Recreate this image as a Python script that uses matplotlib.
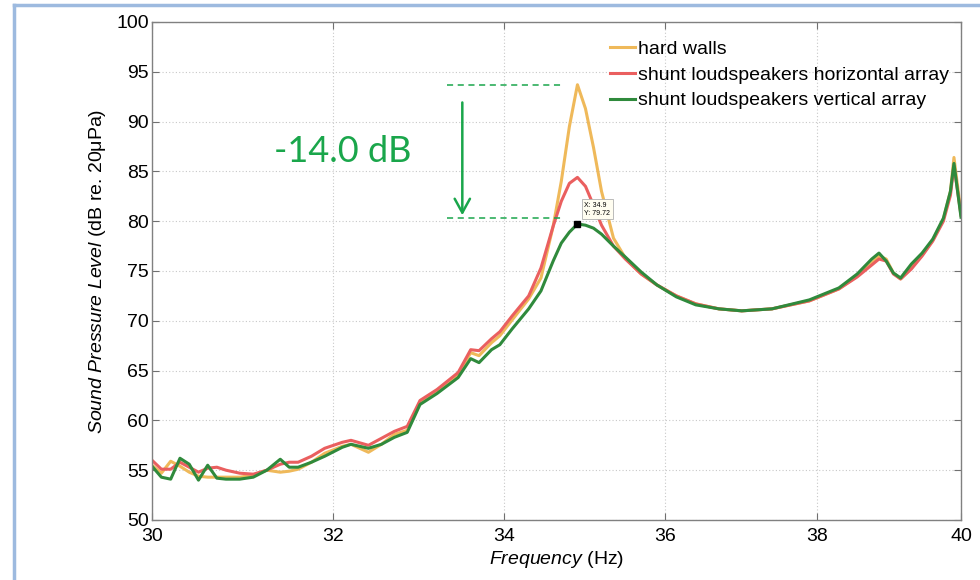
import matplotlib
matplotlib.use("Agg")
import matplotlib.pyplot as plt
from matplotlib.lines import Line2D
from matplotlib.ticker import FixedLocator, NullLocator, FixedFormatter

plt.rcParams["font.family"] = ["Liberation Sans", "DejaVu Sans"]
plt.rcParams["mathtext.fontset"] = "custom"
plt.rcParams["mathtext.rm"] = "Liberation Sans"
plt.rcParams["mathtext.it"] = "Liberation Sans:italic"

# ── Measured SPL spectra (Hz / dB re. 20uPa) ─────────────
freq = [30.0, 30.1, 30.2, 30.3, 30.4, 30.5, 30.6, 30.7, 30.8, 30.95,
        31.1, 31.25, 31.4, 31.5, 31.6, 31.75, 31.9, 32.1, 32.2, 32.4,
        32.55, 32.7, 32.85, 33.0, 33.2, 33.45, 33.6, 33.7, 33.85, 33.95,
        34.1, 34.3, 34.45, 34.6, 34.7, 34.8, 34.9, 35.0, 35.1, 35.2,
        35.35, 35.5, 35.7, 35.9, 36.15, 36.4, 36.7, 37.0, 37.4, 37.9,
        38.3, 38.55, 38.75, 38.85, 38.95, 39.05, 39.15, 39.3, 39.45, 39.6,
        39.75, 39.85, 39.9, 40.0]

hard_walls = [55.5, 54.7, 55.9, 55.4, 54.8, 54.4, 54.3, 54.3, 54.3, 54.3,
              54.5, 55.0, 54.8, 54.9, 55.1, 55.8, 56.7, 57.4, 57.6, 56.8,
              57.6, 58.6, 59.0, 61.9, 63.0, 64.6, 66.8, 66.5, 67.8, 68.5,
              70.1, 72.2, 74.3, 79.5, 84.0, 89.5, 93.7, 91.3, 87.4, 83.0,
              78.3, 76.3, 74.7, 73.6, 72.5, 71.7, 71.2, 71.0, 71.2, 72.0,
              73.2, 74.5, 75.8, 76.5, 76.2, 74.8, 74.2, 75.3, 76.6, 78.1,
              80.2, 83.0, 86.4, 80.8]

horizontal = [56.0, 55.1, 55.1, 55.8, 55.3, 54.8, 55.2, 55.3, 55.0, 54.7,
              54.6, 55.0, 55.6, 55.8, 55.8, 56.4, 57.2, 57.8, 58.0, 57.5,
              58.2, 58.9, 59.4, 62.0, 63.1, 64.8, 67.1, 67.0, 68.2, 68.9,
              70.5, 72.5, 75.3, 79.5, 82.0, 83.8, 84.4, 83.5, 81.6, 79.6,
              77.5, 76.2, 74.7, 73.6, 72.5, 71.7, 71.2, 71.0, 71.2, 72.0,
              73.2, 74.4, 75.6, 76.2, 76.0, 74.7, 74.2, 75.2, 76.5, 78.0,
              80.0, 82.6, 85.6, 80.6]

vertical = [55.4, 54.3, 54.1, 56.2, 55.6, 54.0, 55.5, 54.2, 54.1, 54.1,
            54.3, 55.0, 56.1, 55.3, 55.3, 55.8, 56.4, 57.3, 57.6, 57.2,
            57.6, 58.3, 58.8, 61.6, 62.7, 64.3, 66.2, 65.8, 67.1, 67.6,
            69.2, 71.2, 73.0, 76.0, 77.8, 78.9, 79.72, 79.6, 79.3, 78.7,
            77.5, 76.4, 74.9, 73.6, 72.4, 71.6, 71.2, 71.0, 71.2, 72.1,
            73.3, 74.7, 76.2, 76.8, 76.0, 74.8, 74.3, 75.7, 76.8, 78.2,
            80.3, 83.0, 85.8, 80.4]

labels = ["hard walls",
          "shunt loudspeakers horizontal array",
          "shunt loudspeakers vertical array"]
colors = ["#efb95a", "#ea5f5f", "#2f8a3c"]

x_ticks = [30, 32, 34, 36, 38, 40]
y_ticks = [50, 55, 60, 65, 70, 75, 80, 85, 90, 95, 100]

# datatip on the vertical-array peak
tip_f, tip_db = 34.9, 79.72
peak_hard = 93.7
drop_db = tip_db - peak_hard
annot_green = "#1aa64b"

# ── Figure ────────────────────────────────────────────
fig = plt.figure(figsize=(9.8, 5.8), dpi=100)
ax = fig.add_axes([152 / 980, 1 - 520 / 580, 809 / 980, 498 / 580])

for series, lab, col in zip([hard_walls, horizontal, vertical], labels, colors):
    ax.plot(freq, series, color=col, linewidth=2.2, label=lab,
            solid_joinstyle="round")

ax.set_xscale("log")
ax.set_xlim(30, 40)
ax.set_ylim(50, 100)
ax.xaxis.set_major_locator(FixedLocator(x_ticks))
ax.xaxis.set_major_formatter(FixedFormatter([str(t) for t in x_ticks]))
ax.xaxis.set_minor_locator(NullLocator())
ax.set_yticks(y_ticks)

ax.grid(True, linestyle=(0, (1, 2)), color="#c8c8c8", linewidth=0.8)
ax.tick_params(direction="in", top=True, right=True, length=5,
               labelsize=14, color="#707070")
ax.tick_params(axis="x", pad=6)
ax.tick_params(axis="y", pad=2)
for sp in ax.spines.values():
    sp.set_color("#808080")
    sp.set_linewidth(1.0)

ax.set_xlabel(r"$\mathit{Frequency}$ (Hz)", fontsize=14, labelpad=3)
ax.set_ylabel(r"$\mathit{Sound\ Pressure\ Level}$ (dB re. 20μPa)",
              fontsize=14, labelpad=6)

leg = ax.legend(loc="upper right", bbox_to_anchor=(1.0, 0.987),
                frameon=False, fontsize=14, handlelength=1.3,
                handletextpad=0.15, labelspacing=0.42, borderaxespad=0.2)

# ── Attenuation annotation ────────────────────────────
ax.plot([33.32, 34.73], [peak_hard, peak_hard], color=annot_green,
        linestyle=(0, (4, 3)), linewidth=1.1)
ax.plot([33.32, 34.73], [tip_db + 0.6, tip_db + 0.6], color=annot_green,
        linestyle=(0, (4, 3)), linewidth=1.1)
ax.annotate("", xy=(33.5, tip_db + 0.6), xytext=(33.5, peak_hard - 1.5),
            arrowprops=dict(arrowstyle="->,head_length=1.0,head_width=0.55",
                            color=annot_green, linewidth=1.8))
ax.text(32.1, 87.0, f"{drop_db:.1f} dB", color=annot_green, fontsize=26,
        family=["Lato", "DejaVu Sans"], ha="center", va="center")

# datatip marker and box
ax.plot([tip_f], [tip_db], marker="s", color="black", markersize=4.5)
ax.annotate(f"X: {tip_f}\nY: {tip_db}", xy=(tip_f, tip_db),
            xytext=(5, 5), textcoords="offset points", fontsize=5,
            ha="left", va="bottom", linespacing=1.3,
            bbox=dict(boxstyle="square,pad=0.35", fc="#fffdf0",
                      ec="#b0b0b0", lw=0.6))

# ── Light blue frame round the figure ─────────────────
frame = "#9dbadf"
fig.add_artist(Line2D([14 / 980, 1.0], [1 - 5 / 580, 1 - 5 / 580],
                      color=frame, linewidth=2.5, transform=fig.transFigure))
fig.add_artist(Line2D([14 / 980, 14 / 980], [0.0, 1 - 5 / 580],
                      color=frame, linewidth=2.5, transform=fig.transFigure))

fig.savefig("out.png", dpi=100)
